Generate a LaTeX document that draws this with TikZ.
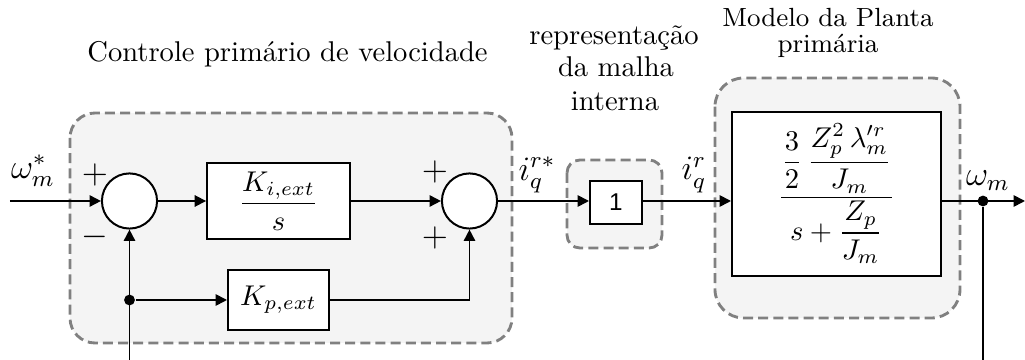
\documentclass[tikz,border=0pt]{standalone}
\usepackage{amsmath}
\usepackage{fontspec}
\newfontfamily\sansf{Liberation Sans}
\usetikzlibrary{arrows.meta}
\definecolor{grpgray}{HTML}{808080}
\definecolor{grpfill}{HTML}{F4F4F4}
\begin{document}
\begin{tikzpicture}[x=0.35pt,y=-0.35pt,
  sig/.style={line width=0.6pt, -{Triangle[length=4pt,width=4pt]}},
  ln/.style={line width=0.6pt},
  blk/.style={draw, line width=0.7pt, fill=white, inner sep=0pt},
  sumc/.style={circle, draw, line width=0.7pt, fill=white, minimum size=19.3pt, inner sep=0pt},
  grp/.style={draw=grpgray, fill=grpfill, line width=1pt, dash pattern=on 3.5pt off 1.8pt},
  ttl/.style={anchor=base, inner sep=0pt, font=\fontsize{10}{12}\selectfont},
  ttls/.style={anchor=base, inner sep=0pt, font=\fontsize{9.2}{11}\selectfont},
  lbl/.style={inner sep=0pt, font=\large},
  sgn/.style={inner sep=0pt, font=\large},
  jdot/.style={circle, fill=black, inner sep=0pt, minimum size=3.8pt}]
\useasboundingbox (0,0) rectangle (1025,360);
% groups
\draw[grp, rounded corners=8.75pt] (70,113) rectangle (512,343);
\draw[grp, rounded corners=4.5pt] (567,160) rectangle (662,248);
\draw[grp, rounded corners=10pt] (715,78) rectangle (960,318);
% titles
\node[ttl] (t1) at (287.5,61.7) {Controle primário de velocidade};
\node[ttl] (t2a) at (614,45) {representação};
\node[ttl] (t2b) at (616,77) {da malha};
\node[ttl] (t2c) at (615,111) {interna};
\node[ttls] (t3a) at (828,27) {Modelo da Planta};
\node[ttls] (t3b) at (828,53) {primária};
% blocks
\node[sumc] (s1) at (129.5,201) {};
\node[blk, minimum width=50pt, minimum height=26.6pt] (ki) at (278.5,201) {$\dfrac{K_{i,ext}}{s}$};
\node[sumc] (s2) at (469.5,201) {};
\node[blk, minimum width=35.35pt, minimum height=21pt] (kp) at (278.5,300) {$K_{p,ext}$};
\node[blk, minimum width=18.2pt, minimum height=15pt] (one) at (616,202.5) {\sansf\fontsize{8.5}{10}\selectfont 1};
\node[blk, minimum width=73.15pt, minimum height=57.4pt] (plant) at (836.5,194)
  {$\dfrac{\dfrac{3}{2}\,\dfrac{Z_p^2\,\lambda_m^{\prime r}}{J_m}}{s+\dfrac{Z_p}{J_m}}$};
% labels and signs
\node[lbl] (wref) at (33,171) {$\omega_m^*$};
\node[lbl] (iqref) at (537,175) {$i_q^{r*}$};
\node[lbl] (iq) at (694,175) {$i_q^{r}$};
\node[lbl] (wm) at (988,181) {$\omega_m$};
\node[sgn] (p1) at (95,175) {$+$};
\node[sgn] (m1) at (95,237) {$-$};
\node[sgn] (p2) at (435,172) {$+$};
\node[sgn] (p3) at (435,238) {$+$};
% points
\coordinate (in) at (10,201);
\coordinate (out) at (1025,201);
\coordinate (fbR) at (983,360);
\coordinate (fbL) at (129.5,360);
% connectors
\draw[sig] (in) -- (s1.west);
\draw[sig] (s1.east) -- (ki.west);
\draw[sig] (ki.east) -- (s2.west);
\draw[sig] (s2.east) -- (s2.east -| one.west);
\draw[sig] (one.east |- s2.east) -- (s2.east -| plant.west);
\draw[sig] (s2.east -| plant.east) -- (out);
\node[jdot] (d2) at (983,201) {};
\draw[ln] (d2) -- (fbR);
\draw[sig] (fbL) -- (s1.south);
\node[jdot] (d1) at (129.5,300) {};
\draw[sig] (d1) -- (kp.west);
\draw[sig] (kp.east) -| (s2.south);
\end{tikzpicture}
\end{document}
